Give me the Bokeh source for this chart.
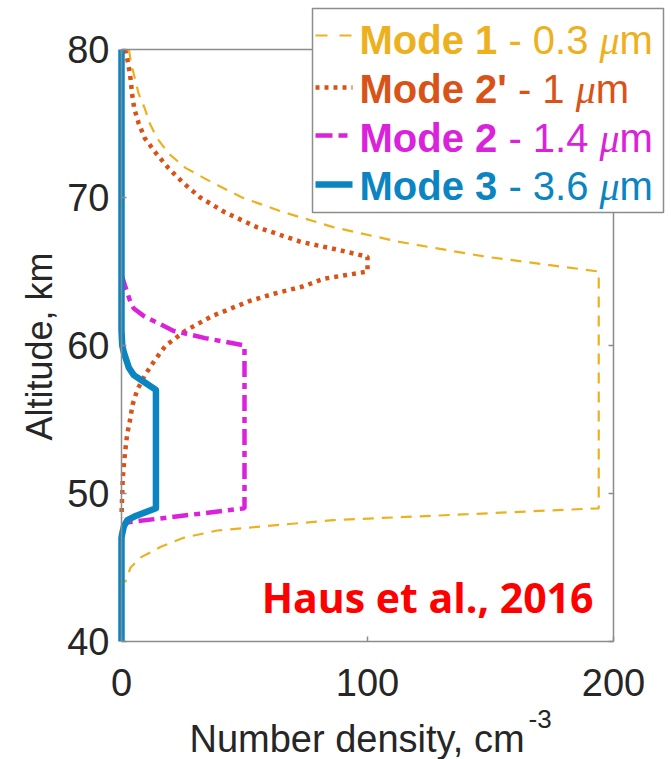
import math
from bokeh.plotting import figure
from bokeh.models import Range1d, LinearAxis, FixedTicker, Label, BoxAnnotation, Arrow
from bokeh.embed import file_html
from bokeh.resources import INLINE

# ---- data: number density (cm^-3) versus altitude (km) ----
mode1_alt = [80, 79, 78, 77, 76, 75, 74, 73, 72, 71, 70, 69, 68, 67, 66, 65,
             49, 48.8, 48.6, 48.4, 48.2, 47.8, 47.5, 47.0, 46.4, 45.7, 45.0, 44.0]
mode1_n = [3, 4, 5.5, 7, 9.5, 11.5, 14.5, 19, 26, 37, 49, 66, 86, 113, 148, 194,
           194, 167, 141, 113, 86, 59, 39, 25, 16, 8, 3.7, 1.5]

mode2p_alt = [80, 79, 78, 77, 76, 75, 74, 73, 72, 71, 70, 69, 68, 67, 66.5, 66,
              65, 64.5, 64, 63.5, 63, 62, 61, 60, 59, 58, 57, 56, 55, 54, 53,
              52, 51, 50, 49, 48.4]
mode2p_n = [1.5, 2.8, 3.7, 4.3, 5.2, 7, 9.5, 14, 19, 25, 32, 42, 55, 73, 87, 100,
            100, 82, 74, 62, 52, 37, 26, 18, 13.5, 9.5, 6.4, 4.5, 3.5, 2.3, 1.6,
            1.0, 0.5, 0.3, 0.1, 0]

mode2_alt = [64.8, 64, 63.5, 63, 62.5, 62, 61.5, 61, 60.5, 60, 49, 48]
mode2_n = [0, 1.5, 2.5, 3.5, 5, 9, 15, 21, 34, 50, 50, 0]

mode3_alt = [80, 61, 60, 59.5, 59, 58.5, 58, 57.5, 57, 49, 48.5, 48.2, 47.8, 47.3, 47, 40]
mode3_n = [0, 0, 0.3, 1, 2, 3, 5, 9.5, 14, 14, 6, 2.4, 1, 0.3, 0, 0]

x_ticks = [0, 100, 200]
y_ticks = [40, 50, 60, 70, 80]
x_lim = (0, 200)
y_lim = (40, 80)

C1, C2P, C2, C3 = "#EDB120", "#D95319", "#DB22DB", "#0A85C2"
AXC = "#8c8c8c"
TXT = "#262626"

W, H = 671, 759
# axes box on the page: x 0..200 over px 121..613, y 80..40 over px 49..641
BOX_L, BOX_R, BOX_T, BOX_B = 121, 613, 49, 641

def xd(px):
    return x_lim[0] + (px - BOX_L) * (x_lim[1] - x_lim[0]) / (BOX_R - BOX_L)

def yd(py):
    return y_lim[1] - (py - BOX_T) * (y_lim[1] - y_lim[0]) / (BOX_B - BOX_T)

# labels are anchored a bit below their nominal baseline; lift them
LIFT = 0.31

p = figure(frame_width=W, frame_height=H,
           x_range=Range1d(xd(0), xd(W)), y_range=Range1d(yd(H), yd(0)),
           min_border=0, output_backend="svg", toolbar_location=None,
           background_fill_color="white", border_fill_color="white",
           outline_line_color=None)
p.title.visible = False
p.grid.visible = False

p.add_layout(LinearAxis(), "right")
p.add_layout(LinearAxis(), "above")

p.below[0].fixed_location = y_lim[0]
p.above[0].fixed_location = y_lim[1]
p.left[0].fixed_location = x_lim[0]
p.right[0].fixed_location = x_lim[1]

for ax in p.xaxis:
    ax.ticker = FixedTicker(ticks=x_ticks)
    ax.bounds = x_lim
for ax in p.yaxis:
    ax.ticker = FixedTicker(ticks=y_ticks)
    ax.bounds = y_lim

for ax in p.axis:
    ax.axis_line_color = AXC
    ax.axis_line_width = 1.5
    ax.major_tick_line_color = AXC
    ax.major_tick_line_width = 1.5
    ax.major_tick_in = 5
    ax.major_tick_out = 0
    ax.minor_tick_line_color = None
    ax.major_label_text_font = "Liberation Sans"
    ax.major_label_text_font_size = "38px"
    ax.major_label_text_color = TXT

p.right[0].major_label_overrides = {t: "" for t in y_ticks}
p.above[0].major_label_overrides = {t: "" for t in x_ticks}
p.left[0].major_label_standoff = 12
p.below[0].major_label_standoff = 27

# profiles (drawn after the axes so the thick line covers the left spine)
p.line(mode1_n, mode1_alt, line_color=C1, line_width=2.2, line_dash="11 8")
p.line(mode2p_n, mode2p_alt, line_color=C2P, line_width=4.5, line_dash="4 5")
p.line(mode2_n, mode2_alt, line_color=C2, line_width=4.5, line_dash="16 6 6 6")
p.line(mode3_n, mode3_alt, line_color=C3, line_width=6.5, line_join="round")


def text_at(px, py, text, size, color, **kw):
    p.add_layout(Label(x=xd(px), y=yd(py - LIFT * size), text=text,
                       text_font_size=f"{size}px", text_color=color,
                       text_baseline="alphabetic", **kw))


# axis titles
p.add_layout(Label(x=xd(50 - LIFT * 36), y=yd(346), text="Altitude, km",
                   angle=math.pi / 2, text_font="Liberation Sans",
                   text_font_size="36px", text_color=TXT,
                   text_baseline="alphabetic", text_align="center"))
text_at(189, 750, "Number density, cm", 38, TXT, text_font="Liberation Sans")
text_at(528, 727, "-3", 26, TXT, text_font="Liberation Sans")

# reference tag
text_at(593, 609, "Haus et al., 2016", 41, "#FF0000", text_font="Open Sans",
        text_font_style="bold", text_align="right")

# legend
p.add_layout(BoxAnnotation(left=xd(312), right=xd(663), top=yd(8), bottom=yd(212),
                           fill_color="white", fill_alpha=1.0,
                           line_color=AXC, line_alpha=1.0, line_width=1.5))

REG = {" ": 278, "-": 333, ".": 278, "'": 191, "m": 833}
BLD = {"M": 833, "o": 611, "d": 611, "e": 556, " ": 278, "'": 238}
for d in "0123456789":
    REG[d] = 556
    BLD[d] = 556

def width(s, table, size):
    return sum(table[c] for c in s) * size / 1000.0

FS = 40
SP = 278 * FS / 1000.0
legend_rows = [
    ("Mode 1", "- 0.3", C1, 35, 52, dict(line_width=2.2, line_dash="12 12")),
    ("Mode 2'", "- 1", C2P, 87, 101, dict(line_width=4.5, line_dash="4 5")),
    ("Mode 2", "- 1.4", C2, 135, 150, dict(line_width=4.5, line_dash="17 6 9 6")),
    ("Mode 3", "- 3.6", C3, 184, 198, dict(line_width=6.5)),
]
for bold, reg, col, mid, base, style in legend_rows:
    p.add_layout(Arrow(end=None, x_start=xd(315), x_end=xd(352),
                       y_start=yd(mid), y_end=yd(mid), line_color=col, **style))
    x0 = 359
    text_at(x0, base, bold, FS, col, text_font="Liberation Sans", text_font_style="bold")
    x0 += width(bold, BLD, FS) + SP
    text_at(x0, base, reg, FS, col, text_font="Liberation Sans")
    x0 += width(reg, REG, FS) + SP
    text_at(x0, base, "\u03bc", FS, col, text_font="Liberation Serif",
            text_font_style="italic")
    x0 += 0.5 * FS
    text_at(x0, base, "m", FS, col, text_font="Liberation Sans")

open("out.html", "w").write(file_html(p, INLINE))
